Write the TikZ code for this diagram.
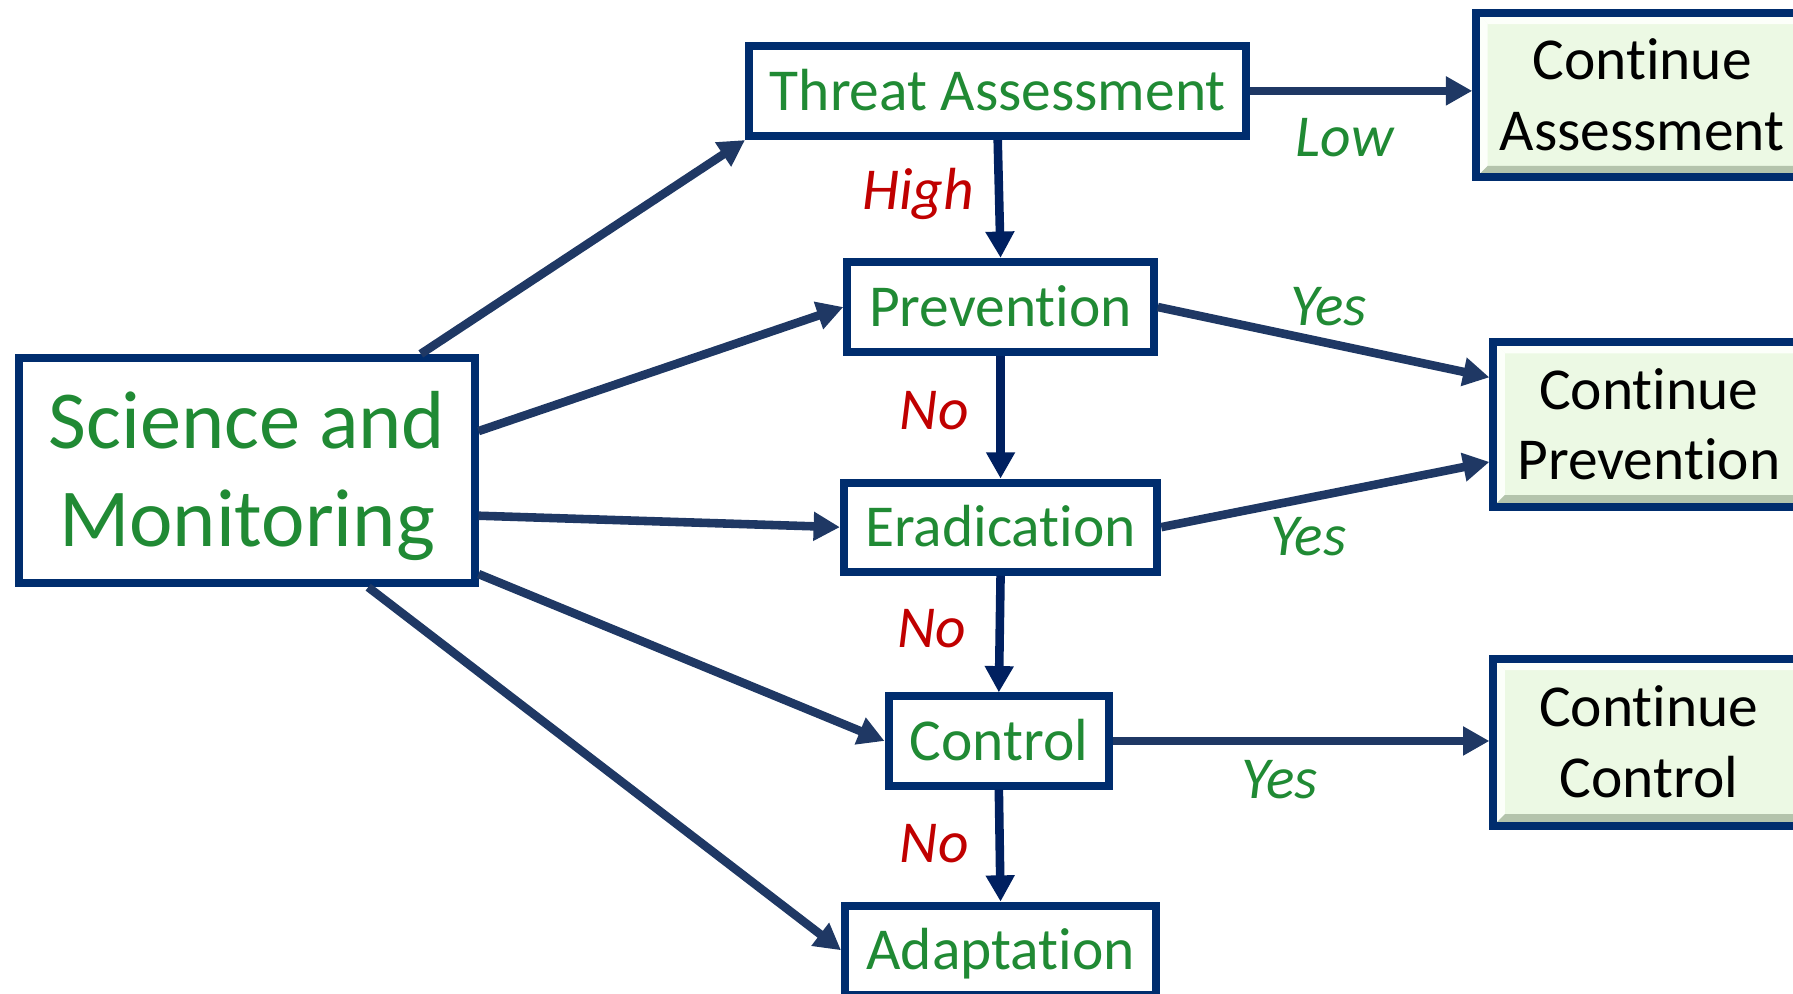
\documentclass[tikz,border=0pt]{standalone}
\usepackage{fontspec}
\setmainfont{Carlito}[Ligatures=NoCommon]
\usetikzlibrary{arrows.meta}
\definecolor{boxblue}{RGB}{0,45,110}
\definecolor{arrblue}{RGB}{31,56,100}
\definecolor{vblue}{RGB}{0,32,96}
\definecolor{tgreen}{RGB}{32,138,52}
\definecolor{tred}{RGB}{192,0,0}
\definecolor{contfill}{RGB}{236,249,228}
\definecolor{bevdark}{RGB}{180,196,172}
\definecolor{bevlight}{RGB}{252,255,250}
\begin{document}
\begin{tikzpicture}[x=1pt,y=-1pt,
  stagebox/.style={draw=boxblue, line width=7pt, fill=white, text=tgreen,
    font=\fontsize{52}{62}\selectfont, inner sep=0pt, text height=34pt, text depth=0pt},
  scibox/.style={draw=boxblue, line width=7pt, fill=white, text=tgreen, align=center,
    font=\fontsize{72}{85}\selectfont, inner sep=0pt, text height=132pt, text depth=0pt},
  contbox/.style={draw=boxblue, line width=7pt, fill=contfill, text=black, align=center,
    font=\fontsize{52}{62}\selectfont, inner sep=0pt,
    path picture={
      \fill[bevlight] (path picture bounding box.north west) -- (path picture bounding box.north east)
        -- ([shift={(-10pt,-10pt)}]path picture bounding box.north east)
        -- ([shift={(10pt,-10pt)}]path picture bounding box.north west) -- cycle;
      \fill[bevlight] (path picture bounding box.north west) -- (path picture bounding box.south west)
        -- ([shift={(10pt,10pt)}]path picture bounding box.south west)
        -- ([shift={(10pt,-10pt)}]path picture bounding box.north west) -- cycle;
      \fill[bevdark] (path picture bounding box.south west) -- (path picture bounding box.south east)
        -- ([shift={(-10pt,10pt)}]path picture bounding box.south east)
        -- ([shift={(10pt,10pt)}]path picture bounding box.south west) -- cycle;
    }},
  arr/.style={draw=arrblue, line width=7.5pt, -{Triangle[length=23pt,width=24pt]}},
  varr/.style={draw=vblue, line width=7.5pt, -{Triangle[length=23pt,width=24pt]}},
  lab/.style={font=\fontsize{52}{62}\selectfont\itshape, inner sep=0pt, text height=34pt, text depth=0pt},
  nolab/.style={lab, text=tred},
  yeslab/.style={lab, text=tgreen}
]
\useasboundingbox (0,0) rectangle (1568,869);
\clip (0,0) rectangle (1568,869);

% main boxes
\node[scibox, minimum width=398pt, minimum height=197pt] (sci) at (216,411.5) {Science and\\Monitoring};
\node[stagebox, minimum width=435pt, minimum height=79pt] (threat) at (872.5,79.5) {Threat Assessment};
\node[stagebox, minimum width=268pt, minimum height=79pt] (prev) at (875,268.5) {Prevention};
\node[stagebox, minimum width=274pt, minimum height=78pt] (erad) at (875,461) {Eradication};
\node[stagebox, minimum width=193pt, minimum height=78pt] (ctrl) at (873.5,648) {Control};
\node[stagebox, minimum width=272pt, minimum height=78pt] (adapt) at (875,831) {Adaptation};

% outcome boxes (cut by the right edge)
\node[contbox, minimum width=290pt, minimum height=144pt] (contA) at (1436,83) {Continue\\Assessment};
\node[contbox, minimum width=272pt, minimum height=144pt] (contP) at (1442,371) {Continue\\Prevention};
\node[contbox, minimum width=272pt, minimum height=146pt] (contC) at (1442,649) {Continue\\Control};

% arrows from Science and Monitoring
\draw[arr] ([xshift=152pt]sci.north) -- (threat.south west);
\draw[arr] ([yshift=34.5pt]sci.east) -- (prev.west);
\draw[arr] ([yshift=-39.5pt]sci.east) -- (erad.west);
\draw[arr] ([yshift=-90.5pt]sci.east) -- (ctrl.west);
\draw[arr] ([xshift=106pt]sci.south) -- (adapt.west);

% vertical chain
\draw[varr] (threat.south) -- (prev.north);
\draw[varr] (prev.south) -- (erad.north);
\draw[varr] (erad.south) -- (ctrl.north);
\draw[varr] (ctrl.south) -- (adapt.north);

% to outcome boxes
\draw[arr] (threat.east) -- (threat.east -| contA.west);
\draw[arr] (prev.east) -- ([yshift=41pt]contP.west);
\draw[arr] (erad.east) -- ([yshift=-33pt]contP.west);
\draw[arr] (ctrl.east) -- (ctrl.east -| contC.west);

% labels
\node[nolab] (lhigh) at (803,166) {High};
\node[nolab] (lno1) at (817,358.5) {No};
\node[nolab] (lno2) at (815,549.5) {No};
\node[nolab] (lno3) at (817,737) {No};
\node[yeslab] (llow) at (1176,120) {Low};
\node[yeslab] (lyes1) at (1162,268) {Yes};
\node[yeslab] (lyes2) at (1144,469) {Yes};
\node[yeslab] (lyes3) at (1119,681) {Yes};
\end{tikzpicture}
\end{document}
